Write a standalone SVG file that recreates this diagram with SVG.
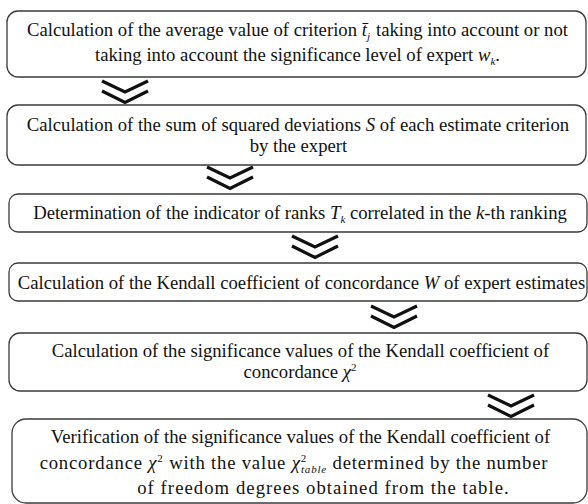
<svg xmlns="http://www.w3.org/2000/svg" width="588" height="504" viewBox="0 0 588 504">
<defs>
<style>
.box{fill:#fff;stroke:#3a3a3a;stroke-width:1.3}
text{font-family:'Liberation Serif','Times New Roman',Times,serif;font-size:18.7px;fill:#111;text-anchor:middle}
.i{font-style:italic}
.s{font-size:11px;font-style:italic}
.p{font-size:11px}
.chev{fill:none;stroke:#111;stroke-width:3.2;stroke-linejoin:miter}
</style>
<g id="chevron">
<path class="chev" d="M-23,-11 L0,0 L23,-11 M-23,-1 L0,10.5 L23,-1"/>
</g>
</defs>
<rect width="588" height="504" fill="#fff"/>
<g id="connectors">
<use href="#chevron" x="125" y="92"/>
<use href="#chevron" x="230" y="178"/>
<use href="#chevron" x="315" y="247"/>
<use href="#chevron" x="394" y="317"/>
<use href="#chevron" x="511" y="406"/>
</g>
<g id="node1">
<rect class="box" x="7" y="11" width="579" height="66" rx="11"/>
<text x="297.5" y="36">Calculation of the average value of criterion <tspan class="i">t̄</tspan><tspan class="s" dy="4">j</tspan><tspan dy="-4" dx="6">taking into account or not</tspan></text>
<text x="297.5" y="61">taking into account the significance level of expert <tspan class="i">w</tspan><tspan class="s" dy="4">k</tspan><tspan dy="-4">.</tspan></text>
</g>
<g id="node2">
<rect class="box" x="7" y="105" width="579" height="60" rx="11"/>
<text x="298" y="131">Calculation of the sum of squared deviations <tspan class="i">S</tspan> of each estimate criterion</text>
<text x="298.5" y="152">by the expert</text>
</g>
<g id="node3">
<rect class="box" x="9" y="194" width="578" height="38" rx="9"/>
<text x="300" y="219">Determination of the indicator of ranks <tspan class="i">T</tspan><tspan class="s" dy="4">k</tspan><tspan dy="-4"> correlated in the </tspan><tspan class="i">k</tspan>-th ranking</text>
</g>
<g id="node4">
<rect class="box" x="9" y="263" width="578" height="38" rx="9"/>
<text x="301.5" y="289">Calculation of the Kendall coefficient of concordance <tspan class="i">W</tspan> of expert estimates</text>
</g>
<g id="node5">
<rect class="box" x="9" y="333" width="578" height="58" rx="11"/>
<text x="300.5" y="357">Calculation of the significance values of the Kendall coefficient of</text>
<text x="300" y="378">concordance <tspan class="i">χ</tspan><tspan class="p" dy="-7">2</tspan></text>
</g>
<g id="node6">
<rect class="box" x="12" y="419" width="575" height="84" rx="14"/>
<text x="300.5" y="443">Verification of the significance values of the Kendall coefficient of</text>
<text x="294" y="469" letter-spacing="0.8">concordance <tspan class="i">χ</tspan><tspan class="p" dy="-7">2</tspan><tspan dy="7"> with the value </tspan><tspan class="i">χ</tspan><tspan class="p" dy="-7">2</tspan><tspan class="s" dy="11" dx="-6">table</tspan><tspan dy="-4"> determined by the number</tspan></text>
<text x="323.5" y="494" letter-spacing="1.05">of freedom degrees obtained from the table.</text>
</g>
</svg>
